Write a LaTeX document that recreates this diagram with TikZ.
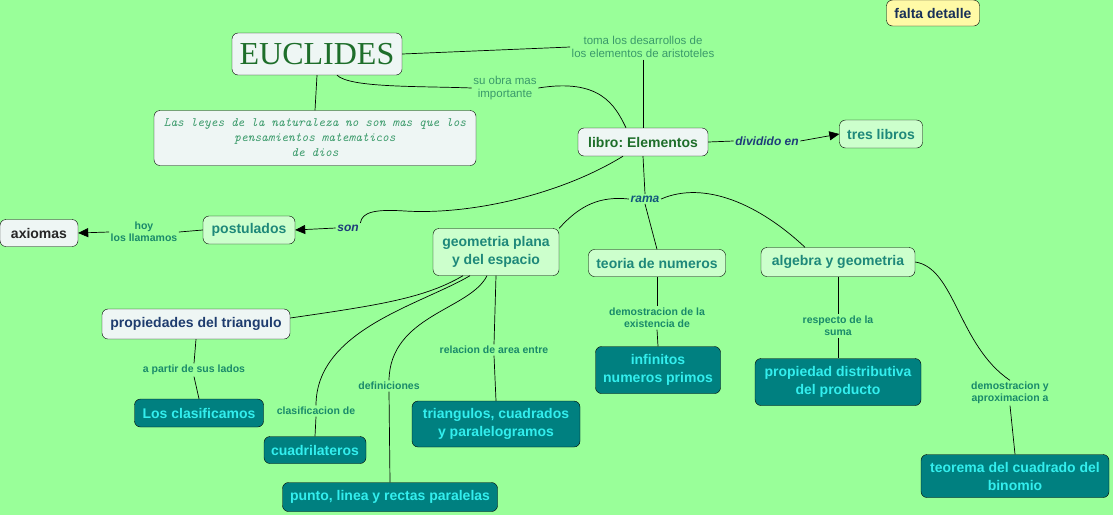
\documentclass[tikz,border=0pt]{standalone}
\usepackage{fontspec}
\setmainfont{Liberation Sans}
\newfontfamily\euclidfont{Liberation Serif}
\usepackage{xcolor}
\usepackage{tikz}
\usetikzlibrary{arrows.meta, positioning}
\frenchspacing

\definecolor{mapbg}{HTML}{99FF99}
\definecolor{palefill}{HTML}{EEF6F4}
\definecolor{mintfill}{HTML}{CCFFCC}
\definecolor{tealfill}{HTML}{008080}
\definecolor{cyantext}{HTML}{33EEEE}
\definecolor{tealtext}{HTML}{1E887A}
\definecolor{leaftext}{HTML}{1E6E2A}
\definecolor{navytext}{HTML}{1E3C6E}
\definecolor{phrasetext}{HTML}{1A8A6A}
\definecolor{softtext}{HTML}{3A9A6A}
\definecolor{verbtext}{HTML}{1E3C7A}

\begin{document}
\begin{tikzpicture}[
        x=1pt, y=-1pt,
        every node/.style={font=\fontsize{14}{18}\selectfont\bfseries},
        concept/.style={rectangle, draw, rounded corners=6pt, align=center, inner xsep=6pt, inner ysep=6pt, minimum height=28pt},
        pale/.style={concept, fill=palefill},
        mint/.style={concept, fill=mintfill, text=tealtext},
        tealbox/.style={concept, fill=tealfill, text=cyantext},
        phrase/.style={align=center, inner sep=1.5pt, text=phrasetext, font=\fontsize{10.5}{12}\selectfont\bfseries},
        softphrase/.style={align=center, inner sep=1.5pt, text=softtext, font=\fontsize{11.5}{13.5}\selectfont},
        verb/.style={inner sep=1.5pt, text=verbtext, font=\fontsize{12}{13}\selectfont\bfseries\itshape},
        link/.style={draw, line width=0.7pt},
        arrow/.style={-{Triangle[length=10pt, width=9pt]}, line width=0.7pt}
    ]
        \fill[mapbg] (0,0) rectangle (1113,515);
        \useasboundingbox (0,0) rectangle (1113,515);

        % conceptos
        \node[pale, text=leaftext, font=\euclidfont\fontsize{32}{34}\selectfont, inner xsep=6pt, minimum width=170pt, minimum height=42pt] (euclides) at (317,54) {EUCLIDES};
        \node[pale, text=softtext, font=\ttfamily\itshape\fontsize{12.8}{15}\selectfont, minimum width=322pt, minimum height=55pt, inner ysep=4pt] (quote) at (315,138) {Las leyes de la naturaleza no son mas que los\\pensamientos matematicos\\de dios};
        \node[pale, text=leaftext, minimum width=130pt] (libro) at (643,142) {libro: Elementos};
        \node[mint, minimum width=83pt] (tres) at (881,134) {tres libros};
        \node[concept, fill=yellow!35!white, text=navytext!80!black, minimum width=93pt, minimum height=26pt] (falta) at (933,13) {falta detalle};
        \node[pale, text=black!85, minimum width=78pt, minimum height=27pt] (axiomas) at (39,233) {axiomas};
        \node[mint, minimum width=92pt] (postulados) at (249,230) {postulados};
        \node[mint, minimum width=126pt, minimum height=47pt] (geometria) at (496,252) {geometria plana\\y del espacio};
        \node[mint, minimum width=137pt, minimum height=27pt] (teoria) at (657,263) {teoria de numeros};
        \node[mint, minimum width=154pt, minimum height=29pt] (algebra) at (838,262) {algebra y geometria};
        \node[pale, text=navytext, minimum width=188pt, minimum height=30pt] (triangulo) at (196,324) {propiedades del triangulo};
        \node[tealbox, minimum width=129pt] (clasificamos) at (199,413) {Los clasificamos};
        \node[tealbox, minimum width=102pt, minimum height=27pt] (cuadrilateros) at (315,450) {cuadrilateros};
        \node[tealbox, minimum width=168pt, minimum height=46pt] (figuras) at (496,424) {triangulos, cuadrados\\y paralelogramos};
        \node[tealbox, minimum width=215pt, minimum height=29pt] (punto) at (390,497) {punto, linea y rectas paralelas};
        \node[tealbox, minimum width=125pt, minimum height=47pt] (primos) at (658,370) {infinitos\\numeros primos};
        \node[tealbox, minimum width=166pt, minimum height=47pt] (distributiva) at (838,382) {propiedad distributiva\\del producto};
        \node[tealbox, minimum width=188pt, minimum height=43pt] (binomio) at (1015,476) {teorema del cuadrado del\\binomio};

        % frases de enlace
        \node[softphrase] (toma) at (643,47) {toma los desarrollos de\\los elementos de aristoteles};
        \node[softphrase] (obra) at (505,88) {su obra mas\\importante};
        \node[verb] (dividido) at (767,141) {dividido en};
        \node[verb] (son) at (348,228) {son};
        \node[verb, text=verbtext!60!teal] (rama) at (645,199) {rama};
        \node[phrase] (llamamos) at (144,232) {hoy\\los llamamos};
        \node[phrase] (lados) at (194,370) {a partir de sus lados};
        \node[phrase] (clasif) at (316,411) {clasificacion de};
        \node[phrase] (defin) at (389,386) {definiciones};
        \node[phrase] (relacion) at (494,350) {relacion de area entre};
        \node[phrase] (existencia) at (657,318) {demostracion de la\\existencia de};
        \node[phrase] (suma) at (838,326) {respecto de la\\suma};
        \node[phrase] (aprox) at (1010,393) {demostracion y\\aproximacion a};

        % conexiones
        \draw[link] (euclides.east) -- (toma.west);
        \draw[link] (toma.south) -- (libro.north);
        \draw[link] (euclides.south) -- (quote.north);
        \draw[link] ([xshift=20pt]euclides.south) .. controls (350,88) and (420,86) .. (obra.west);
        \draw[link] (obra.east) .. controls (600,78) and (615,105) .. ([xshift=-17pt]libro.north);
        \draw[link] (libro.east) -- (dividido.west);
        \draw[arrow] (dividido.east) -- (tres.west);
        \draw[link] ([xshift=-20pt]libro.south) .. controls (560,195) and (470,215) .. (405,211)
            .. controls (375,209) and (362,212) .. (son.north east);
        \draw[arrow] (son.west) -- (postulados.east);
        \draw[link] (postulados.west) -- (llamamos.east);
        \draw[arrow] (llamamos.west) -- (axiomas.east);
        \draw[link] (libro.south) -- (rama.north);
        \draw[link] (rama.west) .. controls (600,196) and (580,205) .. (geometria.north east);
        \draw[link] (rama.east) .. controls (705,180) and (760,205) .. ([xshift=-33pt]algebra.north);
        \draw[link] (rama.south) -- (teoria.north);
        \draw[link] ([xshift=-33pt]geometria.south) .. controls (425,298) and (380,305) .. ([yshift=6pt]triangulo.east);
        \draw[link] ([xshift=-26pt]geometria.south) .. controls (420,305) and (316,330) .. (clasif.north);
        \draw[link] ([xshift=-9pt]geometria.south) .. controls (470,310) and (390,315) .. (defin.north);
        \draw[link] (geometria.south) -- (relacion.north);
        \draw[link] (relacion.south) -- (figuras.north);
        \draw[link] (clasif.south) -- (cuadrilateros.north);
        \draw[link] (defin.south) -- (punto.north);
        \draw[link] (triangulo.south) -- (lados.north);
        \draw[link] (lados.south) -- (clasificamos.north);
        \draw[link] (teoria.south) -- (existencia.north);
        \draw[link] (existencia.south) -- (primos.north);
        \draw[link] (algebra.south) -- (suma.north);
        \draw[link] (suma.south) -- (distributiva.north);
        \draw[link] (algebra.east) .. controls (955,268) and (958,345) .. (aprox.north);
        \draw[link] (aprox.south) -- (binomio.north);
    \end{tikzpicture}
\end{document}
